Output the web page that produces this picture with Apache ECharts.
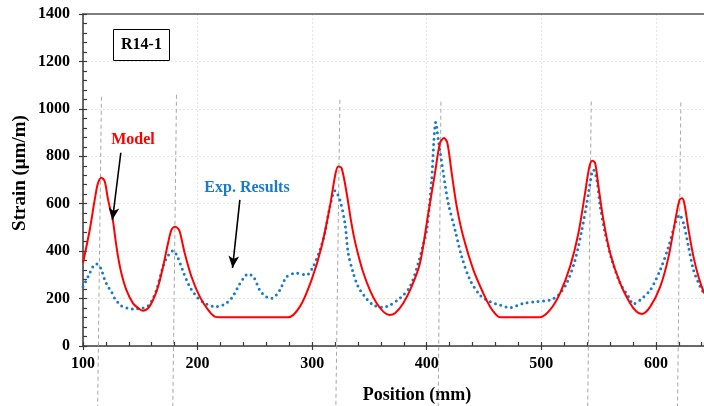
<!DOCTYPE html>
<html>
<head>
<meta charset="utf-8">
<script src="https://cdn.jsdelivr.net/npm/echarts@6/dist/echarts.min.js"></script>
<style>
html,body{margin:0;padding:0;background:#fff;}
#chart{width:704px;height:406px;}
</style>
</head>
<body>
<div id="chart"></div>
<script>
// ---- data ----
var modelPos = [100,105.9,110.2,113.1,116.1,119,121.9,126,128,130.6,133.5,137.9,143.7,149.5,152.4,156.8,161.1,165.5,169.9,174.2,177.2,180.4,182.8,184.5,188.8,194.7,201.9,209.2,215,220,279,289.3,299.5,308.2,315.5,319.9,322.7,325.7,330.1,333.5,336.5,340.2,344.6,350.4,356.3,362.1,367.3,372.3,379.5,386.8,394.1,401.4,407.2,411.6,415.1,418,421.8,426.2,431.9,440.7,449.4,455.3,460,464,498.9,507.6,516.3,525.1,532.4,538.2,542,544.6,547,549.9,554.2,560.1,568.8,577.5,583,587.8,595.1,603.8,611.1,617,620.6,622.8,624.8,628.5,632.8,637.2,642.1];
var modelStrain = [350,490,616,687,710,694,616,532,461,377,307,236,180,155,149,159,194,250,335,433,490,503,496,482,391,292,208,152,124,121,121,166,279,419,588,715,757,750,645,540,460,385,310,236,180,145,131,138,180,250,349,560,729,856,877,856,729,588,461,321,222,166,135,121,121,152,222,335,476,645,757,781,771,672,532,391,265,180,145,135,166,250,377,532,616,623,602,490,377,292,222];
var expPos = [100,104.4,108.7,111.7,114,116.1,119,121.9,124.8,127.7,133.5,139.3,145.2,151,156.8,161.1,164.1,167,169.9,172.8,177.2,178.8,183,187.4,193.2,200.5,207.8,215,222.3,229.6,235.4,240,244.1,249,254.4,260,264.6,271.8,277.7,286.4,295.1,300.9,306.8,311.1,315.5,319.9,324.2,328.6,331.5,335.9,340.2,346.1,353.3,362,367.9,376.6,385.4,392.6,396.5,400,404.3,406.3,407.8,410.1,414.5,418.8,424.7,430.5,437.8,446.5,455.3,464,472.7,484.3,496,507.6,514.9,522.2,529.5,535.4,539.7,544.1,545.5,548.5,551.4,555.7,561.6,568.8,576.1,580.4,586.3,595.1,603.8,611.1,617,620.6,624.1,628.5,632.8,638.7,642];
var expStrain = [250,292,335,346,340,321,279,250,229,201,169,159,156,159,169,201,236,286,335,370,398,402,370,314,250,201,177,166,173,201,250,285,304,290,235,208,201,236,292,307,300,335,405,476,588,655,616,518,391,307,250,208,173,163,173,201,250,349,420,490,701,870,943,870,729,602,490,377,279,215,187,173,162,180,187,194,215,265,363,490,602,729,743,701,588,476,363,265,208,177,194,236,321,419,518,553,518,419,321,250,222];
// gauge (dashed) lines: top position/strain and bottom position
var gaugeTopPos = [116.1,181.6,324.2,412.4,543.6,621.8];
var gaugeTopStrain = [1051,1059,1038,1030,1031,1027];
var gaugeBottomPos = [112.8,178.4,320.7,410,540.5,618.9];
var xTicks = [100,200,300,400,500,600];
var yTicks = [0,200,400,600,800,1000,1200,1400];

function zip(a,b){var r=[];for(var i=0;i<a.length;i++)r.push([a[i],b[i]]);return r;}
var gaugeData = [];
for (var i=0;i<gaugeTopPos.length;i++) gaugeData.push([gaugeTopPos[i],gaugeTopStrain[i],gaugeBottomPos[i]]);

var SERIF = '"Liberation Serif","Times New Roman",serif';
var RED = '#ff0000', BLUE = '#1a7bc9';
var axisColor = '#3a3a3a';
var labelStyle = {fontFamily:SERIF,fontWeight:'bold',fontSize:16,color:'#000'};
var splitStyle = {show:true,showMaxLine:false,lineStyle:{color:'#e4e4e4',width:1,type:[2,2]}};

var chart = echarts.init(document.getElementById('chart'));
var option = {
  animation:false,
  backgroundColor:'#fff',
  grid:{left:83,right:0,top:14,bottom:60,containLabel:false},
  title:{
    text:'R14-1',left:113,top:29,padding:[8,8],
    borderColor:'#000',borderWidth:1,
    textStyle:{fontFamily:SERIF,fontWeight:'bold',fontSize:16,color:'#000'}
  },
  xAxis:[
    {type:'value',min:xTicks[0],max:642,interval:100,position:'bottom',
     axisLine:{show:true,onZero:false,lineStyle:{color:axisColor,width:1.5}},
     axisTick:{show:true,inside:false,length:4,lineStyle:{color:axisColor,width:1.2}},
     axisLabel:Object.assign({margin:10,showMaxLabel:false,formatter:function(v){return xTicks.indexOf(v)>=0?String(v):'';}},labelStyle),
     splitLine:splitStyle},
    {type:'value',min:xTicks[0],max:642,interval:100,position:'bottom',
     axisLine:{show:false,onZero:false},
     axisTick:{show:true,inside:true,length:4,lineStyle:{color:axisColor,width:1.2}},
     minorTick:{show:true,splitNumber:5,length:4,lineStyle:{color:axisColor,width:1.2}},
     axisLabel:{show:false},splitLine:{show:false}},
    {type:'value',min:xTicks[0],max:642,position:'top',
     axisLine:{show:true,onZero:false,lineStyle:{color:'#555',width:1.5}},
     axisTick:{show:false},axisLabel:{show:false},splitLine:{show:false}}
  ],
  yAxis:[
    {type:'value',min:yTicks[0],max:yTicks[yTicks.length-1],interval:200,position:'left',
     axisLine:{show:true,onZero:false,lineStyle:{color:axisColor,width:1.5}},
     axisTick:{show:true,inside:false,length:4,lineStyle:{color:axisColor,width:1.2}},
     axisLabel:Object.assign({margin:13,formatter:function(v){return String(v);}},labelStyle),
     splitLine:splitStyle},
    {type:'value',min:yTicks[0],max:yTicks[yTicks.length-1],interval:200,position:'left',
     axisLine:{show:false,onZero:false},
     axisTick:{show:true,inside:true,length:4,lineStyle:{color:axisColor,width:1.2}},
     minorTick:{show:true,splitNumber:5,length:4,lineStyle:{color:axisColor,width:1.2}},
     axisLabel:{show:false},splitLine:{show:false}}
  ],
  graphic:[
    {type:'text',x:20,y:173,rotation:Math.PI/2,
     style:{text:'Strain (\u03bcm/m)',fontFamily:SERIF,fontWeight:'bold',fontSize:19,fill:'#000',align:'center',verticalAlign:'middle'}},
    {type:'text',x:417,y:395,
     style:{text:'Position (mm)',fontFamily:SERIF,fontWeight:'bold',fontSize:18,fill:'#000',align:'center',verticalAlign:'middle'}},
    {type:'text',x:133,y:140,
     style:{text:'Model',fontFamily:SERIF,fontWeight:'bold',fontSize:16,fill:RED,align:'center',verticalAlign:'middle'}},
    {type:'text',x:247,y:187.5,
     style:{text:'Exp. Results',fontFamily:SERIF,fontWeight:'bold',fontSize:16,fill:BLUE,align:'center',verticalAlign:'middle'}}
  ],
  series:[
    {type:'custom',name:'gauges',xAxisIndex:0,yAxisIndex:0,clip:false,silent:true,z:1,
     data:gaugeData,
     renderItem:function(params,api){
       var p1 = api.coord([api.value(0),api.value(1)]);
       var p2 = api.coord([api.value(2),0]);
       return {type:'line',shape:{x1:p1[0],y1:p1[1],x2:p2[0],y2:api.getHeight()},
               style:{stroke:'#a8a8a8',lineWidth:1,lineDash:[4,3]}};
     }},
    {type:'line',name:'Exp. Results',xAxisIndex:0,yAxisIndex:0,data:zip(expPos,expStrain),
     showSymbol:false,symbol:'none',smooth:0.3,z:3,
     lineStyle:{color:BLUE,width:3,type:[0,5.5],cap:'round'}},
    {type:'line',name:'Model',xAxisIndex:0,yAxisIndex:0,data:zip(modelPos,modelStrain),
     showSymbol:false,symbol:'none',smooth:0.3,z:4,
     lineStyle:{color:RED,width:2},
     markLine:{silent:true,symbol:['none','arrow'],symbolSize:[8,12],animation:false,
       label:{show:false},lineStyle:{color:'#000',width:1.6,type:'solid'},
       data:[
         [{coord:[133,815]},{coord:[125.7,532]}],
         [{coord:[236.9,616]},{coord:[230.5,329]}]
       ]}}
  ]
};
chart.setOption(option);
</script>
</body>
</html>
